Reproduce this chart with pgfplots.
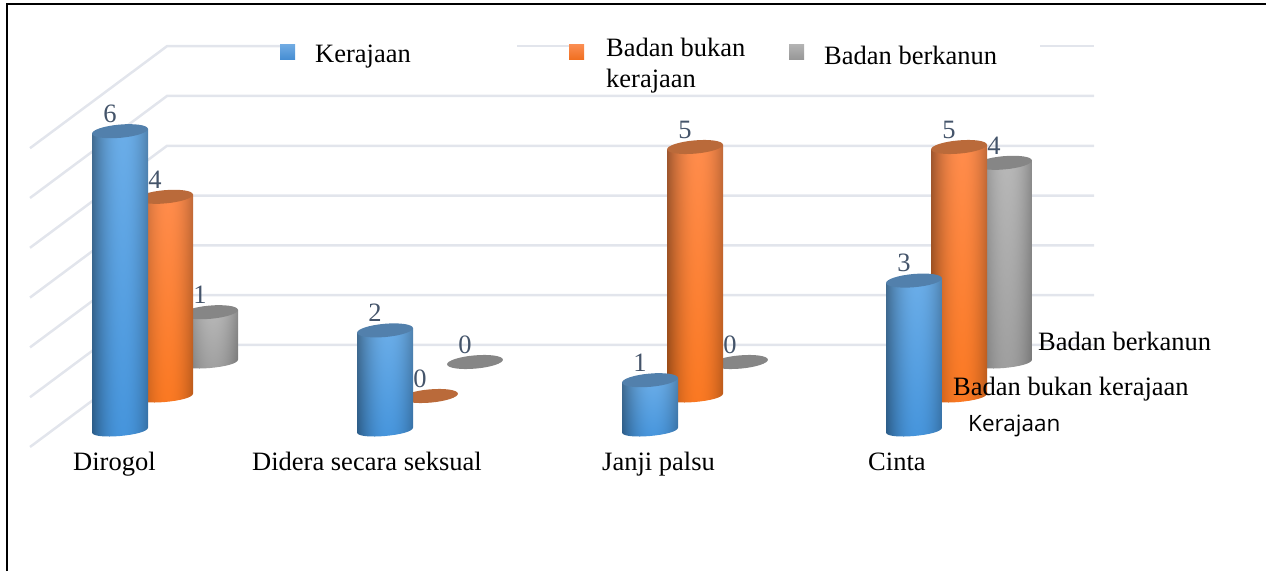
\documentclass[border=0pt]{standalone}
\usepackage{fontspec}
\setmainfont{Liberation Serif}
\newfontfamily\kerfont{Open Sans}
\usepackage{pgfplots}
\pgfplotsset{compat=1.18}
\definecolor{gridc}{HTML}{E2E5EC}
\definecolor{labc}{HTML}{44546A}
\definecolor{capblue}{HTML}{5280AC}
\definecolor{caporange}{HTML}{BA6A3A}
\definecolor{capgray}{HTML}{868686}
\newcommand\declcyl[7]{\pgfdeclarefunctionalshading{#1}{\pgfpoint{0bp}{0bp}}{\pgfpoint{100bp}{100bp}}{}{
 25 sub 50 div exch 25 sub 50 div 0.55 sub 0.55 div dup mul 1 exch sub dup 0 lt {pop 0} if 0.38 mul 0.62 add exch
 dup #5 mul #2 add 2 index mul
 1 index #6 mul #3 add 3 index mul
 2 index #7 mul #4 add 4 index mul
 5 -2 roll pop pop
}}
\declcyl{shblue}{0.27}{0.58}{0.86}{0.15}{0.10}{0.05}
\declcyl{shorange}{0.98}{0.47}{0.13}{0.02}{0.08}{0.17}
\declcyl{shgray}{0.62}{0.62}{0.62}{0.10}{0.10}{0.10}
% a plot mark drawing a whole cylinder: #1 mark name, #2 shading, #3 cap colour, #4 lift of the base
\newcommand\declcylmark[4]{\pgfdeclareplotmark{#1}{%
  \pgfscope
  \pgfmathsetmacro\hh{\valY*49.8}%
  \pgftransformyshift{#4pt}%
  \ifdim\hh pt>0.5pt
    \pgfpathmoveto{\pgfpoint{-28pt}{-2.4pt}}%
    \pgfpathlineto{\pgfpoint{-28pt}{-2.4pt-\hh pt}}%
    \pgfpathcurveto{\pgfpoint{-28pt}{-10.4pt-\hh pt}}{\pgfpoint{28pt}{-5.6pt-\hh pt}}{\pgfpoint{28pt}{2.4pt-\hh pt}}%
    \pgfpathlineto{\pgfpoint{28pt}{2.4pt}}%
    \pgfpathclose
    \pgfshadepath{#2}{0}%
    \pgfusepath{discard}%
  \fi
  \pgfsetfillcolor{#3}%
  \pgfpathellipse{\pgfpointorigin}{\pgfqpoint{27.9pt}{2.44pt}}{\pgfqpoint{-0.58pt}{6.6pt}}%
  \pgfusepath{fill}%
  \endpgfscope
}}
\declcylmark{cylblue}{shblue}{capblue}{0}
\declcylmark{cylorange}{shorange}{caporange}{34}
\declcylmark{cylgray}{shgray}{capgray}{68}
\pgfplotsset{cyl/.style n args={2}{only marks, scatter, mark=#1, point meta=y,
  visualization depends on={y \as \valY},
  scatter/@pre marker code/.code={},
  scatter/@post marker code/.code={},
  nodes near coords={\pgfmathprintnumber[assume math mode=true]{\pgfplotspointmeta}},
  nodes near coords style={font=\fontsize{26.5}{26.5}\selectfont, text=labc, anchor=center, inner sep=0pt, xshift=-10pt, yshift={#2pt+17.5pt}},
}}
\begin{document}
\begin{tikzpicture}
\begin{axis}[scale only axis, width=1266pt, height=571pt, hide axis, clip=false,
  xmin=0, xmax=1266, ymin=-2.8313, ymax=8.6345,
  after end axis/.code={%
    \begin{scope}[font=\fontsize{26.5}{26.5}\selectfont]
    \node[anchor=base west,inner sep=0pt] at (axis cs:73,{(430-470)/49.8}) {Dirogol};
    \node[anchor=base west,inner sep=0pt] at (axis cs:252,{(430-470)/49.8}) {Didera secara seksual};
    \node[anchor=base west,inner sep=0pt] at (axis cs:602,{(430-470)/49.8}) {Janji palsu};
    \node[anchor=base west,inner sep=0pt] at (axis cs:868,{(430-470)/49.8}) {Cinta};
    \path[shading=axis, top color={rgb,255:red,111;green,170;blue,226}, bottom color={rgb,255:red,68;green,140;blue,210}] (axis cs:280,{(430-45)/49.8}) rectangle (axis cs:295,{(430-60)/49.8});
    \path[shading=axis, top color={rgb,255:red,250;green,140;blue,80}, bottom color={rgb,255:red,240;green,110;blue,30}] (axis cs:569,{(430-45)/49.8}) rectangle (axis cs:584,{(430-60)/49.8});
    \path[shading=axis, top color={rgb,255:red,178;green,178;blue,178}, bottom color={rgb,255:red,150;green,150;blue,150}] (axis cs:789,{(430-45)/49.8}) rectangle (axis cs:804,{(430-60)/49.8});
    \node[anchor=base west,inner sep=0pt] at (axis cs:315,{(430-62.5)/49.8}) {Kerajaan};
    \node[anchor=base west,inner sep=0pt] at (axis cs:606,{(430-57)/49.8}) {Badan bukan};
    \node[anchor=base west,inner sep=0pt] at (axis cs:606,{(430-88)/49.8}) {kerajaan};
    \node[anchor=base west,inner sep=0pt] at (axis cs:824,{(430-65)/49.8}) {Badan berkanun};
    \node[anchor=base west,inner sep=0pt] at (axis cs:1038,{(430-350)/49.8}) {Badan berkanun};
    \node[anchor=base west,inner sep=0pt] at (axis cs:953,{(430-395)/49.8}) {Badan bukan kerajaan};
    \node[anchor=base west,inner sep=0pt,font=\kerfont\fontsize{22.5}{22.5}\selectfont] at (axis cs:968,{(430-431)/49.8}) {Kerajaan};
    \end{scope}
  }]
% frame
\addplot[black, line width=2.2pt, forget plot] coordinates {(7,-2.8313)(7,8.554)(1266,8.554)};
% gridlines: left wall then back wall
\addplot[gridc, line width=2.5pt] coordinates {(30,-0.341)(167,1.707)(1094,1.707)};
\addplot[gridc, line width=2.5pt] coordinates {(30,0.659)(167,2.707)(1094,2.707)};
\addplot[gridc, line width=2.5pt] coordinates {(30,1.659)(167,3.707)(1094,3.707)};
\addplot[gridc, line width=2.5pt] coordinates {(30,2.659)(167,4.707)(1094,4.707)};
\addplot[gridc, line width=2.5pt] coordinates {(30,3.659)(167,5.707)(1094,5.707)};
\addplot[gridc, line width=2.5pt] coordinates {(30,4.659)(167,6.707)(1094,6.707)};
\addplot[gridc, line width=2.5pt] coordinates {(30,5.659)(167,7.707)(280,7.707)};
\addplot[gridc, line width=2.5pt] coordinates {(517,7.707)(569,7.707)};
\addplot[gridc, line width=2.5pt] coordinates {(1040,7.707)(1094,7.707)};
% series, back to front
\addplot[cyl={cylgray}{68}] coordinates {(210,1)(475,0)(740,0)(1004,4)};
\addplot[cyl={cylorange}{34}] coordinates {(165,4)(430,0)(695,5)(959,5)};
\addplot[cyl={cylblue}{0}] coordinates {(120,6)(385,2)(650,1)(914,3)};
\end{axis}
\pgfresetboundingbox
\path[use as bounding box] (0,0) rectangle (1266pt,571pt);
\end{tikzpicture}
\end{document}
